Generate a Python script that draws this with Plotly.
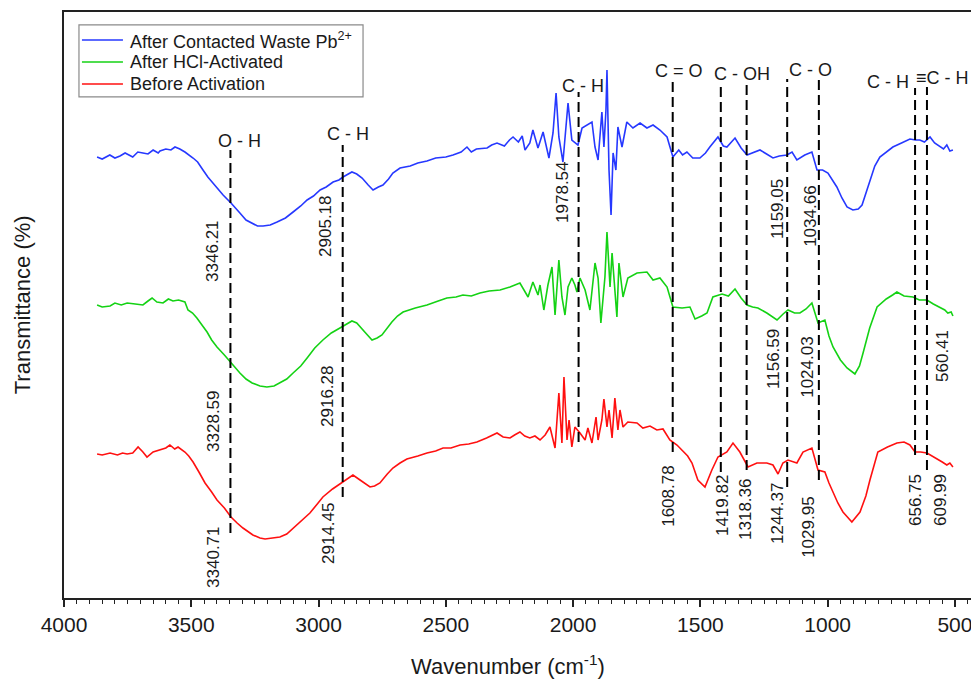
import plotly.graph_objects as go

# ---- data (wavenumber cm-1, transmittance in arbitrary offset units) ----
blue_pts = [(3870,441),(3850,439),(3820,443),(3800,440),(3780,442),(3760,445),(3730,441),(3710,446),(3690,445),
            (3670,444),(3650,448),(3630,445),(3623,447),(3600,449),(3580,448),(3564,451),(3545,449),(3525,446),
            (3493,440),(3475,436),(3454,428),(3435,421),(3415,415),(3395,409),(3375,403),(3344,395),(3325,389),
            (3309,385),(3285,378),(3269,376),(3240,372),(3218,372),(3190,373),(3163,376),(3130,380),(3100,386),
            (3070,392),(3045,398),(3020,402),(2994,408),(2970,411),(2943,416),(2920,418),(2904,421),(2885,424),
            (2869,426),(2850,424),(2829,420),(2805,413),(2786,408),(2765,411),(2747,413),(2725,419),(2708,425),
            (2680,430),(2640,432),(2610,435),(2574,437),(2540,440),(2500,441),(2472,443),(2440,446),(2417,451),
            (2400,446),(2380,449),(2338,450),(2320,453),(2299,455),(2270,452),(2250,458),(2236,461),(2215,456),
            (2200,462),(2189,448),(2170,455),(2158,468),(2138,450),(2118,466),(2095,440),(2079,465),(2067,505),
            (2056,461),(2040,436),(2020,495),(2005,458),(1981,453),(1965,470),(1946,473),(1926,476),(1914,451),
            (1902,438),(1887,486),(1879,451),(1871,488),(1867,528),(1859,428),(1851,383),(1843,445),(1832,428),
            (1824,471),(1808,451),(1789,476),(1765,470),(1737,475),(1710,470),(1686,473),(1659,468),(1631,461),
            (1608,441),(1585,448),(1570,443),(1553,446),(1530,440),(1502,440),(1480,445),(1463,451),(1431,461),
            (1410,452),(1396,451),(1364,460),(1340,450),(1317,443),(1290,446),(1266,448),(1240,444),(1215,440),
            (1190,442),(1160,443),(1140,446),(1121,438),(1090,443),(1062,446),(1042,428),(1020,428),(999,425),
            (980,418),(964,411),(944,400),(924,391),(901,388),(880,389),(865,393),(850,405),(834,418),(815,432),
            (795,441),(770,446),(744,451),(710,455),(677,459),(655,458),(638,458),(620,456),(598,461),(580,455),
            (559,451),(545,449),(532,453),(520,447),(508,448)]

green_pts = [(3870,293),(3850,291),(3819,292),(3800,295),(3775,293),(3752,295),(3720,294),(3690,293),(3670,297),
             (3654,300),(3635,296),(3611,295),(3590,299),(3572,297),(3550,298),(3525,296),(3513,288),(3495,285),
             (3478,280),(3458,273),(3438,266),(3420,258),(3399,251),(3370,243),(3344,235),(3309,225),(3285,219),
             (3261,215),(3230,212),(3203,211),(3175,212),(3152,215),(3125,219),(3100,225),(3070,232),(3045,240),
             (3015,250),(2983,258),(2950,265),(2916,270),(2890,274),(2869,277),(2850,275),(2837,271),(2815,265),
             (2790,258),(2770,260),(2751,263),(2730,270),(2712,276),(2690,282),(2668,286),(2620,290),(2574,293),
             (2530,297),(2496,300),(2460,301),(2433,303),(2400,302),(2366,305),(2330,307),(2287,308),(2248,311),
             (2209,315),(2177,301),(2158,316),(2138,303),(2130,313),(2115,288),(2099,313),(2083,331),(2071,283),
             (2056,338),(2044,301),(2032,283),(2020,311),(2005,320),(1993,313),(1985,306),(1973,320),(1953,308),
             (1934,288),(1914,335),(1902,320),(1891,275),(1875,321),(1867,366),(1855,311),(1847,345),(1828,281),
             (1820,335),(1804,301),(1785,320),(1749,325),(1710,326),(1686,318),(1659,320),(1631,311),(1608,291),
             (1572,290),(1541,291),(1521,279),(1495,282),(1474,285),(1451,301),(1415,304),(1390,302),(1364,309),
             (1340,300),(1317,293),(1295,291),(1274,290),(1239,285),(1220,282),(1199,278),(1175,284),(1156,288),
             (1130,285),(1109,285),(1085,289),(1062,295),(1038,275),(1011,278),(995,262),(979,251),(950,238),
             (924,230),(893,224),(875,232),(861,245),(835,270),(806,291),(770,299),(745,303),(728,306),(700,302),
             (665,301),(640,298),(610,298),(585,294),(559,291),(540,288),(528,285),(515,286),(508,282)]

red_pts = [(3870,144),(3850,143),(3819,145),(3790,143),(3770,145),(3752,144),(3730,145),(3709,151),(3690,146),
           (3674,141),(3650,146),(3623,148),(3600,150),(3584,153),(3565,149),(3552,151),(3525,146),(3510,142),
           (3493,136),(3470,126),(3446,115),(3420,106),(3399,98),(3370,90),(3344,81),(3320,75),(3297,70),
           (3258,63),(3230,60),(3210,59),(3180,60),(3152,61),(3125,64),(3100,70),(3065,78),(3034,85),(3005,94),
           (2983,101),(2945,109),(2904,116),(2865,123),(2837,118),(2798,111),(2780,112),(2759,115),(2730,124),
           (2708,130),(2680,135),(2653,139),(2610,142),(2574,145),(2540,147),(2511,150),(2480,150),(2444,153),
           (2410,154),(2378,156),(2340,160),(2299,165),(2275,161),(2248,160),(2230,163),(2209,166),(2190,162),
           (2170,160),(2150,162),(2130,158),(2110,163),(2091,171),(2071,150),(2056,205),(2044,155),(2036,221),
           (2024,158),(2016,178),(2005,151),(1993,171),(1973,165),(1953,158),(1942,170),(1926,155),(1910,181),
           (1902,158),(1887,178),(1879,199),(1867,171),(1859,188),(1847,160),(1836,200),(1824,168),(1816,188),
           (1804,171),(1785,176),(1749,175),(1726,170),(1698,172),(1671,168),(1647,169),(1620,158),(1592,153),
           (1572,148),(1550,142),(1533,135),(1510,118),(1482,111),(1455,128),(1431,141),(1396,146),(1372,155),
           (1345,146),(1313,131),(1278,135),(1239,135),(1215,133),(1195,124),(1176,135),(1156,138),(1121,135),
           (1097,146),(1062,150),(1038,128),(1011,126),(995,115),(979,105),(960,95),(940,86),(905,76),(873,86),
           (850,102),(834,118),(815,135),(803,146),(765,151),(728,155),(700,156),(677,153),(657,146),(635,146),
           (610,145),(590,142),(571,140),(550,136),(532,133),(520,135),(508,131)]

series_names = ["After Contacted Waste Pb<sup>2+</sup>", "After HCl-Activated", "Before Activation"]

# peak marker lines (wavenumber)
peak_wn = [3346.21, 2905.18, 1978.54, 1608.78, 1419.82, 1318.36, 1159.05, 1034.66, 656.75, 609.99]

# peak value labels (text, wavenumber, transmittance)
peak_labels = [("3346.21", 3419, 347), ("2905.18", 2975, 372), ("1978.54", 2044, 406),
               ("1159.05", 1199, 389), ("1034.66", 1070, 382),
               ("3328.59", 3415, 177), ("2916.28", 2967, 202), ("1156.59", 1215, 239),
               ("1024.03", 1082, 231), ("560.41", 551, 242),
               ("3340.71", 3415, 41), ("2914.45", 2963, 65), ("1608.78", 1628, 102),
               ("1419.82", 1415, 92), ("1318.36", 1325, 89), ("1244.37", 1199, 84),
               ("1029.95", 1078, 71), ("656.75", 657, 98), ("609.99", 559, 98)]

# bond assignment labels (text, wavenumber, transmittance)
bond_labels = [("O - H", 3311, 457), ("C - H", 2886, 464), ("C - H", 1963, 512), ("C = O", 1586, 527),
               ("C - OH", 1337, 524), ("C - O", 1068, 528), ("C - H", 765, 516), ("≡C - H", 549, 520)]

# ---- styling / layout (not data) ----
colors = ["#2638ff", "#14d214", "#ff1010"]
line_bottom = [65, 101, 156, 146, 126, 128, 111, 118, 143, 128]
line_top = [448, 453, 506, 516, 515, 513, 519, 520, 510, 511]
FONT = "Arial, 'Liberation Sans', sans-serif"
TXT = "#1a1a1a"

fig = go.Figure()
for name, pts, col in zip(series_names, [blue_pts, green_pts, red_pts], colors):
    xs = [p[0] for p in pts]
    ys = [p[1] for p in pts]
    fig.add_trace(go.Scatter(x=xs, y=ys, mode="lines", name=name, showlegend=False,
                             line=dict(color=col, width=1.6)))

for wn, y0, y1 in zip(peak_wn, line_bottom, line_top):
    fig.add_shape(type="line", xref="x", yref="y", x0=wn, x1=wn, y0=y0, y1=y1,
                  line=dict(color="black", width=2, dash="10px,5px"))

for txt, wn, t in peak_labels:
    fig.add_annotation(x=wn, y=t, xref="x", yref="y", text=txt, textangle=-90,
                       showarrow=False, font=dict(family=FONT, size=17, color=TXT),
                       xanchor="center", yanchor="middle")

for txt, wn, t in bond_labels:
    fig.add_annotation(x=wn, y=t, xref="x", yref="y", text=txt,
                       showarrow=False, font=dict(family=FONT, size=18, color=TXT),
                       xanchor="center", yanchor="middle")

# legend box drawn in paper coordinates
fig.add_shape(type="rect", xref="paper", yref="paper", x0=0.0165, x1=0.3297, y0=0.855, y1=0.978,
              line=dict(color="#8a8a8a", width=1.2), fillcolor="white", layer="above")
legend_rows = [0.9522, 0.9147, 0.8771]
for name, col, yy in zip(series_names, colors, legend_rows):
    fig.add_shape(type="line", xref="paper", yref="paper", x0=0.0198, x1=0.065, y0=yy, y1=yy,
                  line=dict(color=col, width=1.6))
    fig.add_annotation(x=0.0706, y=yy, xref="paper", yref="paper", text=name, showarrow=False,
                       xanchor="left", yanchor="middle",
                       font=dict(family=FONT, size=18, color=TXT))

# axis titles
fig.add_annotation(x=0.49, y=-0.114, xref="paper", yref="paper",
                   text="Wavenumber (cm<sup>-1</sup>)", showarrow=False,
                   font=dict(family=FONT, size=22, color=TXT), xanchor="center", yanchor="middle")
fig.add_annotation(x=-0.046, y=0.5, xref="paper", yref="paper", text="Transmittance (%)",
                   textangle=-90, showarrow=False,
                   font=dict(family=FONT, size=22, color=TXT), xanchor="center", yanchor="middle")

fig.update_layout(
    width=971, height=679,
    margin=dict(l=64, r=0, t=12, b=81),
    paper_bgcolor="white", plot_bgcolor="white",
    font=dict(family=FONT, color=TXT),
    showlegend=False,
)
fig.update_xaxes(range=[4000, 437], showgrid=False, zeroline=False,
                 showline=True, linecolor="#222", linewidth=2, mirror=True,
                 ticks="outside", ticklen=7, tickwidth=1.5, tickcolor="#222",
                 dtick=500, tick0=0, tickfont=dict(family=FONT, size=21, color=TXT),
                 ticklabeloverflow="allow",
                 minor=dict(ticks="outside", ticklen=4, tickwidth=1, tickcolor="#222", dtick=50))
fig.update_yaxes(range=[0, 586], showgrid=False, zeroline=False, showticklabels=False,
                 showline=True, linecolor="#222", linewidth=2, mirror=False, ticks="")

fig.write_html("out.html", config={"displayModeBar": False},
               post_script="document.body.style.margin='0px';document.body.style.overflow='hidden';")
